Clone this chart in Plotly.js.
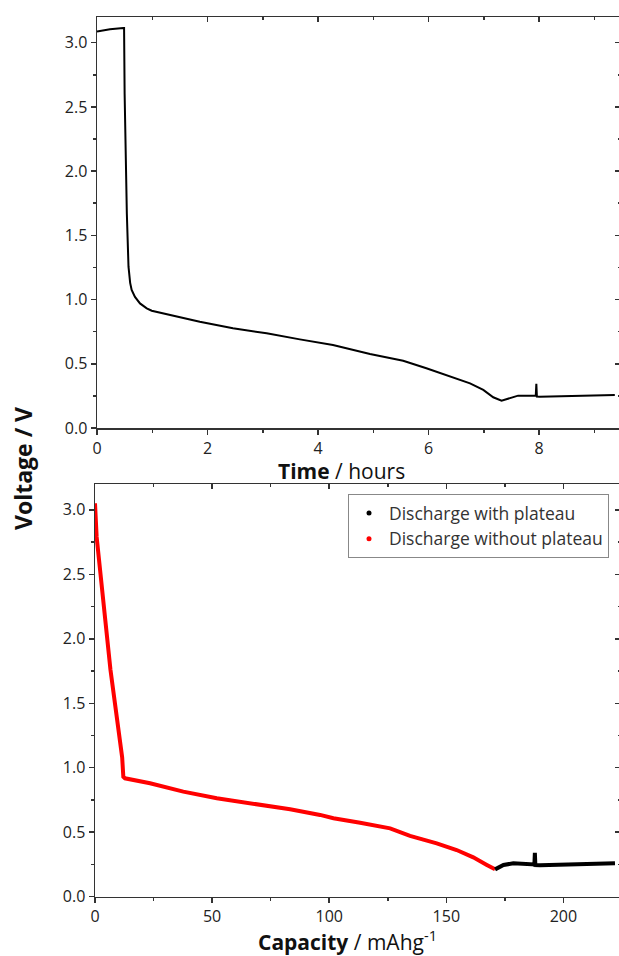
<!DOCTYPE html>
<html>
<head>
<meta charset="utf-8">
<script src="https://cdn.plot.ly/plotly-3.0.1.min.js"></script>
<style>
html, body { margin: 0; padding: 0; overflow: hidden; background: #fff; }
#chart { width: 622px; height: 956px; }
</style>
</head>
<body>
<div id="chart"></div>
<script>
// Top panel: voltage vs time
const timeHours = [0, 0.235, 0.476, 0.49, 0.50, 0.52, 0.54, 0.57, 0.60, 0.627, 0.687, 0.778, 0.90, 0.99, 1.86, 2.46, 3.07, 3.67, 4.27, 4.94, 5.54, 5.96, 6.38, 6.75, 6.99, 7.17, 7.32, 7.44, 7.62, 7.90, 7.94, 7.95, 7.96, 8.01, 8.79, 9.37];
const timeVoltage = [3.087, 3.105, 3.115, 3.115, 2.60, 2.03, 1.67, 1.256, 1.13, 1.075, 1.02, 0.97, 0.932, 0.913, 0.828, 0.776, 0.737, 0.690, 0.646, 0.576, 0.524, 0.465, 0.405, 0.348, 0.296, 0.239, 0.213, 0.231, 0.252, 0.252, 0.252, 0.345, 0.245, 0.244, 0.249, 0.257];

// Bottom panel: voltage vs capacity
const capNoPlateau = [0, 0.7, 6.6, 11.4, 11.6, 12.1, 12.8, 23.5, 37.7, 52, 66.2, 76.1, 83.3, 96.1, 101.8, 113.2, 126, 134.5, 145.9, 154.4, 161.5, 167.3, 170.8];
const voltNoPlateau = [3.05, 2.79, 1.76, 1.11, 1.08, 0.93, 0.918, 0.88, 0.815, 0.763, 0.725, 0.694, 0.678, 0.634, 0.608, 0.574, 0.530, 0.471, 0.414, 0.362, 0.305, 0.246, 0.212];
const capPlateau = [170.8, 171.5, 174.4, 178.6, 185.7, 187.6, 187.8, 188.0, 190, 201.4, 222];
const voltPlateau = [0.212, 0.22, 0.246, 0.259, 0.254, 0.25, 0.341, 0.245, 0.243, 0.246, 0.259];

const seriesNames = ["Discharge with plateau", "Discharge without plateau"];
const timeTitle = "<b>Time</b> / hours";
const capTitle = "<b>Capacity</b> / mAhg<sup>-1</sup>";
const voltTitle = "<b>Voltage / V</b>";

const W = 622, H = 956;
const px = v => v / W;
const py = v => 1 - v / H;

const FONT = "Open Sans, Noto Sans, sans-serif";
const AX = '#333';

const traces = [
  { x: timeHours, y: timeVoltage, xaxis: 'x', yaxis: 'y', mode: 'lines',
    line: { color: '#000', width: 2 }, showlegend: false },
  { x: capNoPlateau, y: voltNoPlateau, xaxis: 'x2', yaxis: 'y2', mode: 'lines',
    line: { color: '#ff0000', width: 4 }, showlegend: false },
  { x: capPlateau, y: voltPlateau, xaxis: 'x2', yaxis: 'y2', mode: 'lines',
    line: { color: '#000', width: 4 }, showlegend: false },
  // empty traces so that the mirrored (top / right) frame axes get drawn
  { x: [null], y: [null], xaxis: 'x3', yaxis: 'y3', mode: 'lines', showlegend: false },
  { x: [null], y: [null], xaxis: 'x4', yaxis: 'y4', mode: 'lines', showlegend: false },
  // legend entries (dot symbols, as in the reference)
  { x: [null], y: [null], xaxis: 'x2', yaxis: 'y2', mode: 'markers', name: seriesNames[0],
    marker: { color: '#000', size: 5 } },
  { x: [null], y: [null], xaxis: 'x2', yaxis: 'y2', mode: 'markers', name: seriesNames[1],
    marker: { color: '#ff0000', size: 5 } }
];

function baseAxis(extra) {
  return Object.assign({
    showgrid: false, zeroline: false, showline: true, linecolor: AX, linewidth: 1.5,
    ticks: 'outside', ticklen: 5, tickwidth: 1.5, tickcolor: AX,
    tickfont: { family: FONT, size: 16, color: '#222' }
  }, extra);
}
const minorOut = d => ({ dtick: d, ticks: 'outside', ticklen: 3, tickcolor: AX, tickwidth: 1.5 });
const minorIn = (d, len) => ({ dtick: d, ticks: 'inside', ticklen: len || 3, tickcolor: AX, tickwidth: 1.5 });

const topX = [0, 9.5], botX = [0, 225], yR = [0, 3.2];
const topDom = [py(428), py(17)], botDom = [py(896.7), py(484)];
const topXDom = [px(97), 1], botXDom = [px(95), 1];

const layout = {
  width: W, height: H,
  margin: { l: 0, r: 0, t: 0, b: 0 },
  paper_bgcolor: '#fff', plot_bgcolor: 'rgba(0,0,0,0)',
  font: { family: FONT, color: '#222' },
  xaxis: baseAxis({ domain: topXDom, range: topX, anchor: 'y', dtick: 2, tick0: 0, minor: minorOut(1) }),
  yaxis: baseAxis({ domain: topDom, range: yR, anchor: 'x', dtick: 0.5, tickformat: '.1f', minor: minorOut(0.25) }),
  xaxis3: baseAxis({ overlaying: 'x', side: 'top', anchor: 'y3', range: topX, dtick: 2, tick0: 0,
    ticks: 'inside', showticklabels: false, minor: minorIn(1) }),
  yaxis3: baseAxis({ overlaying: 'y', side: 'right', anchor: 'x3', range: yR, dtick: 0.5,
    ticks: 'inside', ticklen: 7, showticklabels: false, minor: minorIn(0.25, 4) }),

  xaxis2: baseAxis({ domain: botXDom, range: botX, anchor: 'y2', dtick: 50, tick0: 0, minor: minorOut(25) }),
  yaxis2: baseAxis({ domain: botDom, range: yR, anchor: 'x2', dtick: 0.5, tickformat: '.1f', minor: minorOut(0.25) }),
  xaxis4: baseAxis({ overlaying: 'x2', side: 'top', anchor: 'y4', range: botX, dtick: 50, tick0: 0,
    ticks: 'inside', showticklabels: false, minor: minorIn(25) }),
  yaxis4: baseAxis({ overlaying: 'y2', side: 'right', anchor: 'x4', range: yR, dtick: 0.5,
    ticks: 'inside', ticklen: 7, showticklabels: false, minor: minorIn(0.25, 4) }),

  showlegend: true,
  legend: {
    x: px(348), y: py(494), xanchor: 'left', yanchor: 'top',
    bgcolor: '#fff', bordercolor: '#888', borderwidth: 1,
    font: { family: FONT, size: 17.5, color: '#333' },
    itemwidth: 30, tracegroupgap: 0
  },
  annotations: [
    { text: timeTitle, xref: 'paper', yref: 'paper', x: px(341), y: py(471),
      xanchor: 'center', yanchor: 'middle', showarrow: false,
      font: { family: FONT, size: 21, color: '#111' } },
    { text: capTitle, xref: 'paper', yref: 'paper', x: px(347), y: py(940),
      xanchor: 'center', yanchor: 'middle', showarrow: false,
      font: { family: FONT, size: 21, color: '#111' } },
    { text: voltTitle, xref: 'paper', yref: 'paper', x: px(23), y: py(469),
      xanchor: 'center', yanchor: 'middle', showarrow: false, textangle: -90,
      font: { family: FONT, size: 23, color: '#111' } }
  ]
};

Plotly.newPlot('chart', traces, layout, { staticPlot: true, displayModeBar: false });
</script>
</body>
</html>
